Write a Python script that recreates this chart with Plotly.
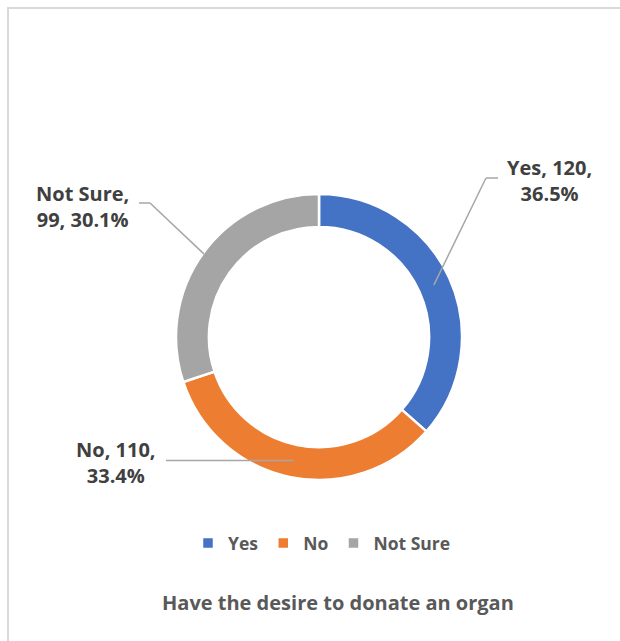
import math
import plotly.graph_objects as go

# ---- data ----
categories = ["Yes", "No", "Not Sure"]
values = [120, 110, 99]
colors = ["#4472C4", "#ED7D31", "#A5A5A5"]
title_text = "Have the desire to donate an organ"

W, H = 620, 641
def px(x): return x / W
def py(y): return 1 - y / H

# donut geometry (pixels)
CX, CY, R = 319, 337, 143
HOLE = 0.77
FONT = "Open Sans"

total = sum(values)
pcts = [v / total * 100 for v in values]

fig = go.Figure()
fig.add_trace(go.Pie(
    labels=categories, values=values, sort=False, direction="clockwise",
    rotation=0, hole=HOLE, textinfo="none", hoverinfo="label+value+percent",
    marker=dict(colors=colors, line=dict(color="white", width=2.5)),
    domain=dict(x=[px(CX - R), px(CX + R)], y=[py(CY + R), py(CY - R)]),
    showlegend=True,
))

# label layout: (text centre x, y), break after part index, anchor radius, elbow points
label_layout = {
    "Yes": dict(pos=(549, 180), brk=2, r=126, path=[(486, 178), (498, 178)]),
    "No": dict(pos=(116, 463), brk=2, r=126, path=["h", 166]),
    "Not Sure": dict(pos=(82, 207), brk=1, r=142, path=[(150, 203), (139, 203)]),
}

shapes = []
annotations = []
cum = 0.0
for cat, val, pct in zip(categories, values, pcts):
    mid = (cum + pct / 2) / 100 * 2 * math.pi
    cum += pct
    L = label_layout[cat]
    ax = CX + L["r"] * math.sin(mid)
    ay = CY - L["r"] * math.cos(mid)
    if L["path"][0] == "h":
        pts = [(ax, ay), (L["path"][1], ay)]
    else:
        pts = [(ax, ay)] + L["path"]
    for (x0, y0), (x1, y1) in zip(pts[:-1], pts[1:]):
        shapes.append(dict(type="line", xref="paper", yref="paper",
                           x0=px(x0), y0=py(y0), x1=px(x1), y1=py(y1),
                           line=dict(color="#A6A6A6", width=1.5)))
    parts = [cat, str(val), f"{pct:.1f}%"]
    b = L["brk"]
    text = ", ".join(parts[:b]) + ",<br>" + ", ".join(parts[b:])
    annotations.append(dict(text=text, x=px(L["pos"][0]), y=py(L["pos"][1]),
                            xref="paper", yref="paper", showarrow=False,
                            xanchor="center", yanchor="middle", align="center",
                            font=dict(family=FONT, size=20, color="#404040", weight="bold")))

annotations.append(dict(text=title_text, x=px(338), y=py(602), xref="paper", yref="paper",
                        showarrow=False, xanchor="center", yanchor="middle",
                        font=dict(family=FONT, size=20, color="#595959", weight="bold")))

# outer chart frame
shapes.append(dict(type="rect", xref="paper", yref="paper",
                   x0=px(8), y0=py(8), x1=px(W + 20), y1=py(H + 20),
                   line=dict(color="#D9D9D9", width=2), fillcolor="rgba(0,0,0,0)"))

fig.update_layout(
    width=W, height=H, margin=dict(l=0, r=0, t=0, b=0),
    paper_bgcolor="white", plot_bgcolor="white",
    shapes=shapes, annotations=annotations,
    legend=dict(orientation="h", x=px(322), y=py(543), xanchor="center", yanchor="middle",
                font=dict(family=FONT, size=17.5, color="#595959", weight="bold"),
                itemwidth=30, traceorder="normal"),
)

fig.write_html("out.html")
